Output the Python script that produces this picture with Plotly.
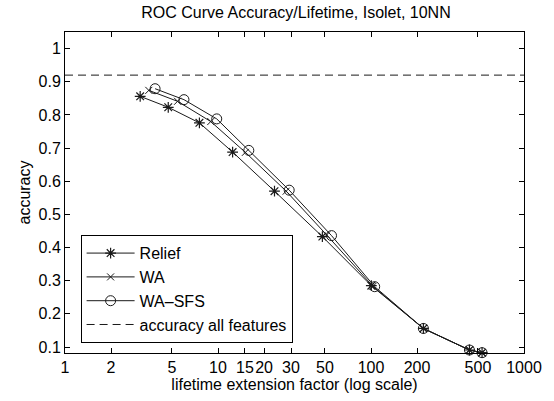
import plotly.graph_objects as go

# Data
relief_x = [3.10, 4.73, 7.56, 12.46, 23.4, 48.1, 100.5, 220, 440, 532]
relief_y = [0.856, 0.823, 0.776, 0.688, 0.570, 0.433, 0.285, 0.156, 0.091, 0.083]
wa_x = [3.53, 5.44, 8.97, 15.1, 27.9, 51.3, 103, 220, 440, 532]
wa_y = [0.874, 0.841, 0.780, 0.687, 0.570, 0.438, 0.283, 0.156, 0.091, 0.083]
wasfs_x = [3.88, 5.99, 9.81, 15.9, 29.2, 55.2, 105.7, 220, 440, 532]
wasfs_y = [0.879, 0.846, 0.788, 0.693, 0.573, 0.436, 0.282, 0.156, 0.091, 0.083]
all_features_acc = 0.92
x_span = [1, 1000]

x_tickvals = [1, 2, 5, 10, 15, 20, 30, 50, 100, 200, 500, 1000]
x_ticktext = ["1", "2", "5", "10", "15", "20", "30", "50", "100", "200", "500", "1000"]
y_tickvals = [0.1, 0.2, 0.3, 0.4, 0.5, 0.6, 0.7, 0.8, 0.9, 1.0]
y_ticktext = ["0.1", "0.2", "0.3", "0.4", "0.5", "0.6", "0.7", "0.8", "0.9", "1"]

FONT = "Liberation Sans, Arial, Helvetica, sans-serif"
FS = 16
LC = "#1a1a1a"

fig = go.Figure()
fig.add_trace(go.Scatter(
    x=relief_x, y=relief_y, name="Relief", mode="lines+markers",
    line=dict(color=LC, width=1),
    marker=dict(symbol="asterisk-open", size=9, line=dict(color=LC, width=1.2)),
    cliponaxis=False))
fig.add_trace(go.Scatter(
    x=wa_x, y=wa_y, name="WA", mode="lines+markers",
    line=dict(color=LC, width=1),
    marker=dict(symbol="x-thin-open", size=7, line=dict(color=LC, width=1)),
    cliponaxis=False))
fig.add_trace(go.Scatter(
    x=wasfs_x, y=wasfs_y, name="WA\u2013SFS", mode="lines+markers",
    line=dict(color=LC, width=1),
    marker=dict(symbol="circle-open", size=10, color=LC, line=dict(color=LC, width=1)),
    cliponaxis=False))
fig.add_trace(go.Scatter(
    x=x_span, y=[all_features_acc, all_features_acc], name="accuracy all features",
    mode="lines", line=dict(color=LC, width=1, dash="8px,5px")))

axis_common = dict(
    showline=True, linecolor="black", linewidth=1, mirror="ticks",
    ticks="inside", ticklen=5, tickcolor="black", tickwidth=1,
    showgrid=False, zeroline=False,
    tickfont=dict(family=FONT, size=FS, color="black"),
)

fig.update_layout(
    width=554, height=401,
    margin=dict(l=65, r=27, t=32, b=48),
    paper_bgcolor="white", plot_bgcolor="white",
    font=dict(family=FONT, size=FS, color="black"),
    title=dict(text="ROC Curve Accuracy/Lifetime, Isolet, 10NN",
               x=(65 + 527) / 2 / 554, xanchor="center", y=1 - 12 / 401, yanchor="middle",
               font=dict(family=FONT, size=FS, color="black")),
    xaxis=dict(type="log", range=[0, 3], tickvals=x_tickvals, ticktext=x_ticktext,
               tickangle=0,
               title=dict(text="lifetime extension factor (log scale)", standoff=1,
                          font=dict(family=FONT, size=FS)),
               **axis_common),
    yaxis=dict(range=[0.082, 1.05], tickvals=y_tickvals, ticktext=y_ticktext,
               title=dict(text="accuracy", standoff=3, font=dict(family=FONT, size=FS)),
               **axis_common),
    legend=dict(x=0.034, y=0.367, xanchor="left", yanchor="top",
                bordercolor="black", borderwidth=1, bgcolor="white",
                font=dict(family=FONT, size=FS, color="black"),
                itemwidth=48),
    showlegend=True,
)

fig.write_html("out.html",
               config={"displayModeBar": False},
               post_script="document.body.style.margin='0';document.body.style.padding='0';")
